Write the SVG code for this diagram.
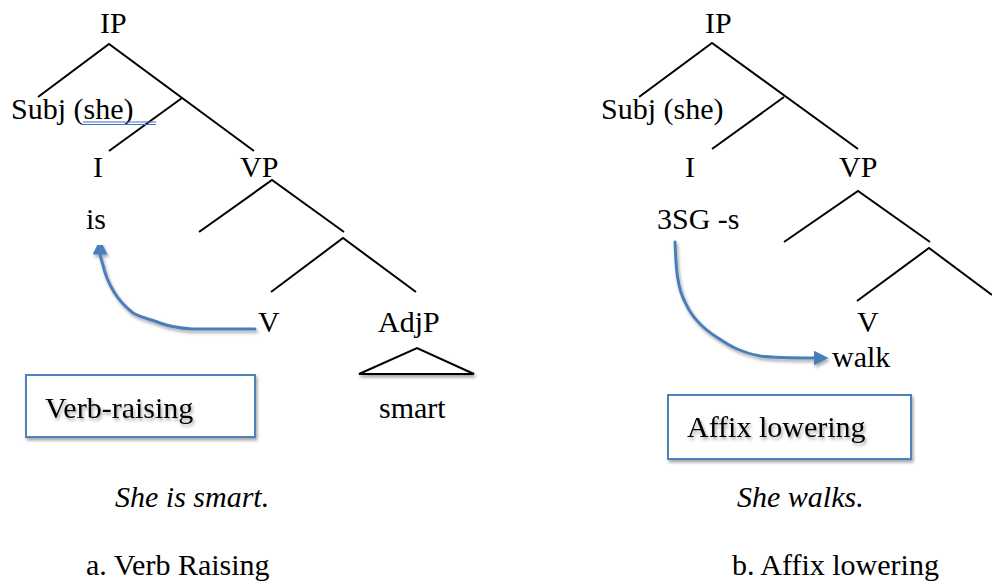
<svg xmlns="http://www.w3.org/2000/svg" width="992" height="583" viewBox="0 0 992 583">
<style>
text{font-size:30px;fill:#000}
.it{font-style:italic}
.tree{stroke:#000;stroke-width:2;fill:none;stroke-linecap:butt}
.arr{stroke:#4a7ebb;stroke-width:3;fill:none;stroke-linecap:round;stroke-linejoin:round}
.box{fill:#fff;stroke:#4f81bd;stroke-width:2}
.ul{stroke:#4472c4;stroke-width:1.2}
</style>
<defs>
<filter id="sh" x="-10%" y="-10%" width="130%" height="140%">
<feDropShadow dx="1.5" dy="2.5" stdDeviation="1.8" flood-color="#000" flood-opacity="0.35"/>
</filter>
<marker id="ah" viewBox="0 0 10 10" refX="1" refY="5" markerWidth="5" markerHeight="5" orient="auto" markerUnits="strokeWidth">
<path d="M0,0 L10,5 L0,10 z" fill="#4a7ebb"/>
</marker>
</defs>
<rect width="992" height="583" fill="#fff"/>

<g id="connectors">
<g class="tree">
<path d="M38,97 L109,44 L254,151"/>
<path d="M109,151 L182,98"/>
<path d="M199,232 L272,180 L344,232"/>
<path d="M271,292 L343,238 L416,292"/>
<path d="M639,97 L712,43 L858,149"/>
<path d="M712,149 L784,97"/>
<path d="M784,242 L858,191 L930,242"/>
<path d="M857,301 L929,248 L992,295"/>
</g>
<path class="arr" filter="url(#sh)" d="M255,329 L192,329 C178,328 168,326 160,323 C150,319 142,318 133,313 C124,306 119,300 114,292 C108,282 105,275 103,265 C101,259 100,256 100,253" marker-end="url(#ah)"/>
<path class="arr" filter="url(#sh)" d="M675,242 C676,262 676,285 685,302 C692,318 705,330 718,338 C730,346 740,352 760,356 C775,358 790,358 815,358" marker-end="url(#ah)"/>
</g>

<g font-family="Times New Roman, Liberation Serif, DejaVu Serif, serif">
<g id="left-tree">
<g id="ip-a"><text x="100" y="33">IP</text></g>
<g id="subj-a"><text x="11" y="119">Subj (she)</text>
<line class="ul" x1="83" y1="122" x2="156" y2="122"/><line class="ul" x1="83" y1="124.5" x2="156" y2="124.5"/></g>
<g id="i-a"><text x="93" y="177">I</text></g>
<g id="vp-a"><text x="240" y="177">VP</text></g>
<g id="is-a"><text x="86" y="229">is</text></g>
<g id="v-a"><text x="258" y="332">V</text></g>
<g id="adjp-a"><text x="378" y="332">AdjP</text>
<path d="M359,374 L417,348 L474,374 Z" fill="#fff" stroke="#000" stroke-width="2" filter="url(#sh)"/></g>
<g id="smart-a"><text x="379" y="418">smart</text></g>
<g id="box-a"><rect class="box" x="26" y="375" width="229" height="62" filter="url(#sh)"/>
<text x="45" y="418" filter="url(#sh)">Verb-raising</text></g>
<g id="sent-a"><text class="it" x="115" y="507">She is smart.</text></g>
<g id="cap-a"><text x="86" y="575">a. Verb Raising</text></g>
</g>

<g id="right-tree">
<g id="ip-b"><text x="705" y="33">IP</text></g>
<g id="subj-b"><text x="601" y="119">Subj (she)</text></g>
<g id="i-b"><text x="685" y="177">I</text></g>
<g id="vp-b"><text x="839" y="177">VP</text></g>
<g id="sg-b"><text x="657" y="229">3SG -s</text></g>
<g id="v-b"><text x="857" y="332">V</text></g>
<g id="walk-b"><text x="832" y="367">walk</text></g>
<g id="box-b"><rect class="box" x="668" y="395" width="243" height="64" filter="url(#sh)"/>
<text x="687" y="437" filter="url(#sh)">Affix lowering</text></g>
<g id="sent-b"><text class="it" x="737" y="507">She walks.</text></g>
<g id="cap-b"><text x="732" y="575">b. Affix lowering</text></g>
</g>
</g>
</svg>
